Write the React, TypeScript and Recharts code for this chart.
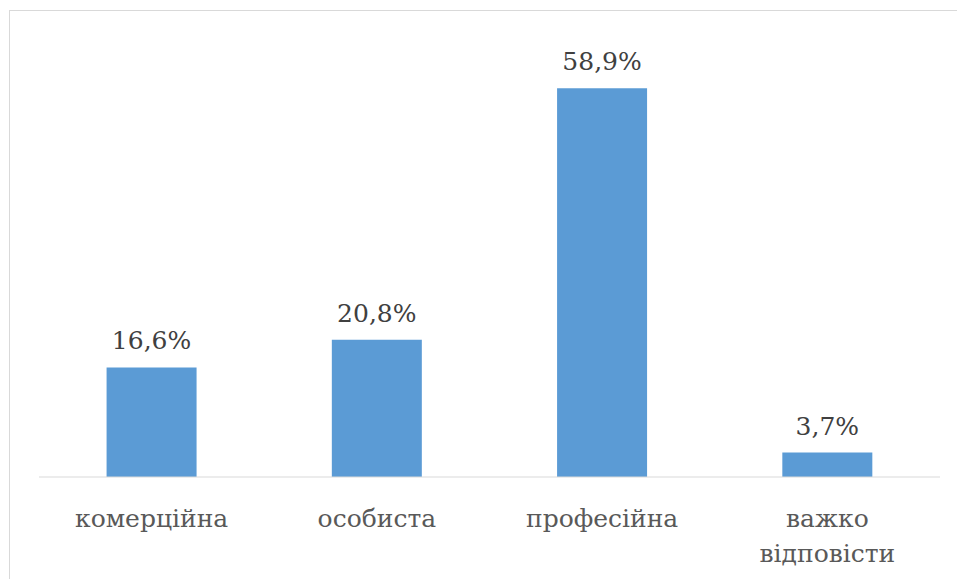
import { BarChart, Bar, XAxis, YAxis, LabelList } from 'recharts';

const categories = ['комерційна', 'особиста', 'професійна', 'важко відповісти'];
const shares = [16.6, 20.8, 58.9, 3.7];

const data = categories.map((name, i) => ({ name, value: shares[i] }));

const FONT = "'DejaVu Serif', serif";

function CategoryTick(props: any) {
  const { x, y, payload } = props;
  const text: string = payload.value;
  const lines = text.length > 12 ? text.split(' ') : [text];
  return (
    <text x={x} y={y} textAnchor="middle" fill="#595959" fontSize={25} style={{ fontFamily: FONT }}>
      {lines.map((line, i) => (
        <tspan key={i} x={x} dy={i === 0 ? 48 : 35}>{line}</tspan>
      ))}
    </text>
  );
}

export default function App() {
  return (
    <div style={{ position: 'absolute', left: 0, top: 0, width: 957, height: 579, overflow: 'hidden', background: '#fff', fontFamily: FONT }}>
      <div style={{ position: 'absolute', left: 9, top: 10, width: 1000, height: 1000, border: '1px solid #d9d9d9', boxSizing: 'border-box' }} />
      <div style={{ position: 'absolute', left: 0, top: 0 }}>
        <BarChart width={957} height={579} data={data} margin={{ top: 15, right: 17, bottom: 0, left: 39 }} barCategoryGap="30%" style={{ fontFamily: FONT }}>
          <XAxis
            dataKey="name"
            height={102}
            tickSize={0}
            tickLine={false}
            axisLine={{ stroke: '#d9d9d9', strokeWidth: 1 }}
            tick={<CategoryTick />}
            interval={0}
          />
          <YAxis hide domain={[0, 70]} />
          <Bar dataKey="value" fill="#5b9bd5" isAnimationActive={false}>
            <LabelList
              dataKey="value"
              position="top"
              offset={18}
              fill="#404040"
              fontSize={25}
              style={{ fontFamily: FONT }}
              formatter={(v: any) => `${String(v).replace('.', ',')}%`}
            />
          </Bar>
        </BarChart>
      </div>
    </div>
  );
}
